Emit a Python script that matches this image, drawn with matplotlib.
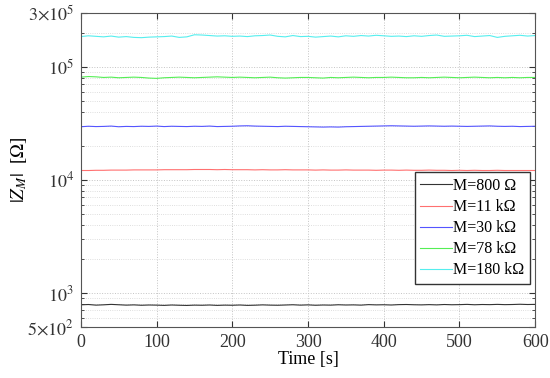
import matplotlib
matplotlib.use("Agg")
import matplotlib.pyplot as plt
import matplotlib.ticker as mticker
import numpy as np

plt.rcParams['font.family'] = ['Liberation Serif', 'DejaVu Serif']
plt.rcParams['mathtext.fontset'] = 'stix'

# time axis, one sample every 10 s
t = np.arange(0, 601, 10)

z_800 = [785, 790, 780, 785, 792, 786, 780, 784, 778, 782,
         780, 776, 782, 778, 775, 780, 778, 782, 776, 780,
         778, 782, 776, 779, 784, 780, 778, 782, 786, 780,
         784, 778, 782, 780, 786, 782, 784, 780, 788, 784,
         786, 782, 788, 790, 786, 784, 788, 784, 790, 786,
         788, 792, 786, 790, 788, 792, 788, 790, 794, 790,
         792]
z_11k = [12100, 12100, 12150, 12150, 12200, 12200, 12200, 12250, 12250, 12250,
         12250, 12300, 12300, 12300, 12300, 12350, 12350, 12350, 12300, 12350,
         12300, 12300, 12300, 12250, 12300, 12250, 12250, 12300, 12250, 12250,
         12250, 12200, 12250, 12200, 12200, 12250, 12200, 12200, 12200, 12150,
         12200, 12200, 12150, 12200, 12150, 12150, 12200, 12150, 12150, 12100,
         12150, 12100, 12150, 12100, 12100, 12150, 12100, 12100, 12100, 12100,
         12100]
z_30k = [29500, 29800, 29600, 29700, 29900, 29500, 29700, 29600, 29800, 29700,
         29900, 29600, 29800, 29700, 29600, 29800, 29700, 29900, 29600, 29700,
         29800, 30000, 30100, 29900, 29800, 29700, 29600, 29800, 29700, 29600,
         29500, 29400, 29300, 29400, 29300, 29500, 29600, 29700, 29800, 29900,
         30000, 30100, 30000, 29900, 29800, 29900, 30000, 29900, 29800, 29900,
         29800, 29700, 29800, 29900, 30000, 29800, 29700, 29800, 29600, 29700,
         29800]
z_78k = [81000, 82000, 81500, 80500, 81000, 80000, 80500, 81000, 80500, 79500,
         79000, 80000, 80500, 81000, 80500, 80000, 80500, 81000, 81500, 81000,
         80500, 81000, 80500, 80000, 80500, 81000, 80000, 79500, 80000, 80500,
         80500, 80000, 79500, 80500, 80000, 80500, 81000, 80500, 80000, 80500,
         80500, 81000, 80500, 80000, 80000, 80500, 80000, 80500, 81000, 80500,
         80000, 80500, 81000, 80500, 80000, 80500, 80000, 80500, 80000, 80500,
         80500]
z_180k = [185000, 188000, 186000, 184000, 187000, 183000, 185000, 182000, 181000, 183000,
          184000, 185000, 187000, 182000, 184000, 192000, 191000, 189000, 187000, 188000,
          186000, 187000, 185000, 188000, 189000, 191000, 186000, 184000, 189000, 185000,
          186000, 183000, 185000, 187000, 184000, 188000, 186000, 189000, 187000, 190000,
          188000, 186000, 187000, 185000, 188000, 186000, 189000, 191000, 186000, 187000,
          188000, 190000, 185000, 187000, 189000, 182000, 186000, 188000, 190000, 187000,
          189000]

labels = ['M=800 Ω', 'M=11 kΩ', 'M=30 kΩ', 'M=78 kΩ', 'M=180 kΩ']
colors = ['#333333', '#ff7070', '#5555ff', '#55ee55', '#55eeee']

fig = plt.figure(figsize=(5.5, 3.78), dpi=100)
ax = fig.add_axes([0.147, 0.135, 0.826, 0.831])

for z, lab, c in zip([z_800, z_11k, z_30k, z_78k, z_180k], labels, colors):
    ax.plot(t, z, color=c, lw=0.8, label=lab)

ax.set_yscale('log')
ax.set_xlim(0, 600)
ax.set_ylim(500, 3e5)
ax.set_xticks([0, 100, 200, 300, 400, 500, 600])

yt = [500, 1e3, 1e4, 1e5, 3e5]
ytl = [r'$5{\times}10^2$', r'$10^3$', r'$10^4$', r'$10^5$', r'$3{\times}10^5$']
ax.yaxis.set_major_locator(mticker.FixedLocator(yt))
ax.yaxis.set_major_formatter(mticker.FixedFormatter(ytl))
ax.yaxis.set_minor_locator(mticker.LogLocator(base=10, subs=np.arange(2, 10)))
ax.yaxis.set_minor_formatter(mticker.NullFormatter())

ax.tick_params(which='both', direction='in', top=True, right=True,
               labelsize=13, colors='#333333')
ax.tick_params(which='major', length=4, pad=5)
ax.tick_params(which='minor', length=2)
for s in ax.spines.values():
    s.set_color('#555555')

ax.grid(True, which='major', ls=':', color='#c4c4c4', lw=0.7)
ax.grid(True, which='minor', axis='y', ls=':', color='#d4d4d4', lw=0.6)

ax.set_xlabel('Time [s]', fontsize=13, labelpad=0)
ax.set_ylabel(r'$|Z_M|$  [$\Omega$]', fontsize=13.5)
ax.yaxis.set_label_coords(-0.115, 0.5)

ax.legend(loc='upper right', bbox_to_anchor=(0.988, 0.492), fontsize=11.5,
          fancybox=False, framealpha=1, edgecolor='#333333',
          handlelength=2.0, borderpad=0.35, labelspacing=0.32, handletextpad=0.05,
          borderaxespad=0)

fig.savefig('out.png', dpi=100)
